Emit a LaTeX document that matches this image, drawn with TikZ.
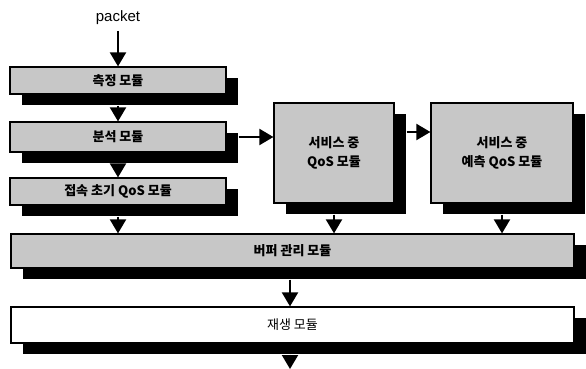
\documentclass[tikz,border=0pt]{standalone}
\usepackage{fontspec}
\setmainfont{Liberation Sans}
\newfontfamily\kr{Noto Sans CJK KR}
\usetikzlibrary{arrows.meta,shadows}
\begin{document}
\begin{tikzpicture}[x=1pt,y=-1pt,
  mbox/.style={draw=black, line width=1.2pt, fill=black!22,
    font=\kr\bfseries\fontsize{13}{16}\selectfont, align=center, inner sep=0pt,
    drop shadow={shadow xshift=12pt, shadow yshift=-11pt, fill=black, opacity=1}},
  wbox/.style={mbox, fill=white, font=\kr\fontsize{13}{16}\selectfont},
  arr/.style={line width=2pt, -{Triangle[width=16pt,length=14pt]}}]
\useasboundingbox (0,0) rectangle (586,369);
\node[font=\fontsize{15}{17}\selectfont] (pk) at (118,18) {packet};
\node[mbox, minimum width=216pt, minimum height=27pt] (m1) at (118,80.5) {측정 모듈};
\node[mbox, minimum width=216pt, minimum height=30pt] (m2) at (118,137) {분석 모듈};
\node[mbox, minimum width=216pt, minimum height=27pt] (m3) at (118,191.5) {접속 초기 QoS 모듈};
\node[mbox, minimum width=120pt, minimum height=100pt] (s1) at (334,153) {서비스 중\\[3pt]QoS 모듈};
\node[mbox, minimum width=142pt, minimum height=100pt] (s2) at (502,153) {서비스 중\\[3pt]예측 QoS 모듈};
\node[mbox, minimum width=563pt, minimum height=34pt] (buf) at (292.5,251) {버퍼 관리 모듈};
\node[wbox, minimum width=563pt, minimum height=36pt] (play) at (292.5,325) {재생 모듈};
\coordinate (out) at (290,369);
\draw[arr] (118,31) -- (m1.north);
\draw[arr] (m1.south) ++(0,-11pt) -- (m2.north);
\draw[arr] (m2.south) ++(0,-11pt) -- (m3.north);
\draw[arr] (m3.south) ++(0,-11pt) -- (m3.south |- buf.north);
\draw[arr] ([xshift=12pt]m2.east) -- (s1.west |- m2.east);
\draw[arr] ([xshift=12pt,yshift=21pt]s1.east) -- ([yshift=21pt]s2.west);
\draw[arr] (s1.south) ++(0,-11pt) -- (s1.south |- buf.north);
\draw[arr] (s2.south) ++(0,-11pt) -- (s2.south |- buf.north);
\draw[arr] ([xshift=-2.5pt,yshift=-11pt]buf.south) -- ([xshift=-2.5pt]play.north);
\draw[arr] ([xshift=-2.5pt,yshift=-11pt]play.south) -- (out);
\end{tikzpicture}
\end{document}
